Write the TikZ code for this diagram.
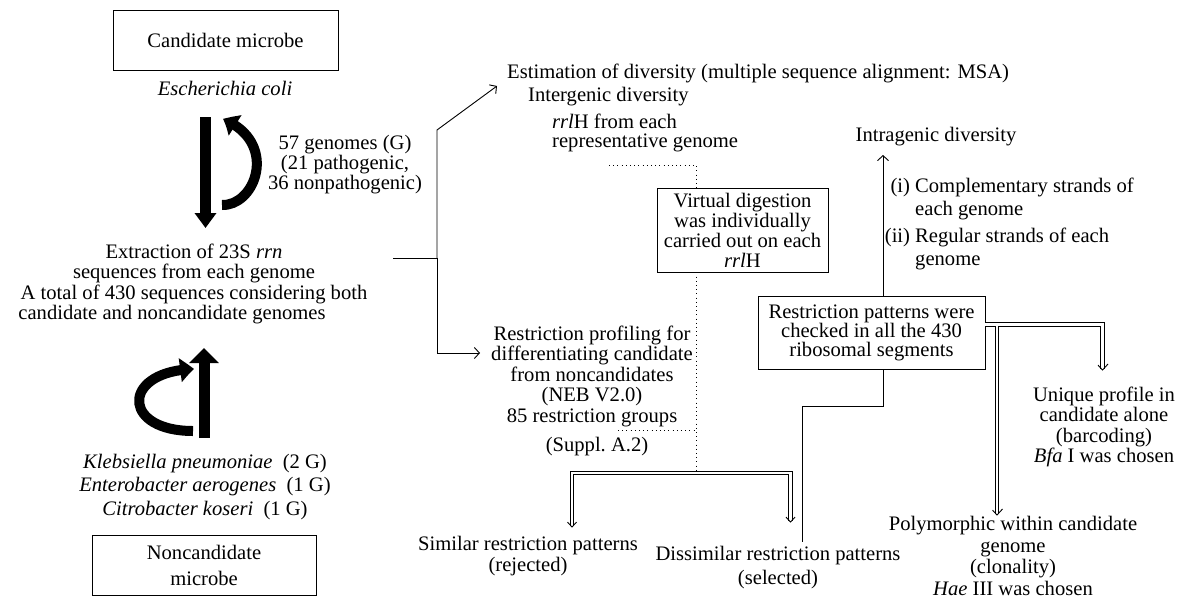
\documentclass[tikz,border=0pt]{standalone}
\usepackage{fontspec}
\setmainfont{Liberation Serif}
\usetikzlibrary{arrows.meta,bending,decorations.markings,calc}
\newcommand\fz[1]{\fontsize{20.6}{#1}\selectfont}
\tikzset{
  txt/.style={inner sep=0pt, align=center, font=\fz{20}},
  box/.style={draw, line width=0.9pt, inner sep=0pt, align=center, font=\fz{20}},
  ln/.style={line width=0.9pt},
  arr/.style={ln, -{Straight Barb[length=5pt,width=11pt]}},
  dots/.style={line width=1pt, dash pattern=on 1pt off 3.2pt},
  dbl/.style={line width=0.8pt, double distance=2.6pt},
  tipE/.style={shorten >=1.5pt, postaction={decorate,decoration={markings,mark=at position 1 with {\draw[line width=0.9pt] (-6pt,5.5pt) -- (0pt,0pt) -- (-6pt,-5.5pt);}}}},
  tipS/.style={shorten <=1.5pt, postaction={decorate,decoration={markings,mark=at position 0 with {\draw[line width=0.9pt] (6pt,5.5pt) -- (0pt,0pt) -- (6pt,-5.5pt);}}}},
}
\begin{document}
\begin{tikzpicture}[x=1pt,y=-1pt]
\useasboundingbox (0,0) rectangle (1182,605);

% ---- left column
\node[box, minimum width=225pt, minimum height=60pt] (cand) at (225.5,40) {Candidate microbe};
\node[txt] (ecoli) at (225,88) {\textit{Escherichia coli}};
\node[txt] (gen) at (345,165) {57 genomes (G)\\(21 pathogenic,\\36 nonpathogenic)};
\node[txt, font=\fz{20.5}] (ext) at (194,284) {Extraction of 23S \textit{rrn}\\sequences from each genome\\A total of 430 sequences considering both\\candidate and noncandidate genomes\hspace*{44pt}};
\node[txt, font=\fz{23.5}] (sp) at (205,487) {\textit{Klebsiella pneumoniae}\enspace(2 G)\\\textit{Enterobacter aerogenes}\enspace(1 G)\\\textit{Citrobacter koseri}\enspace(1 G)};
\node[box, minimum width=224pt, minimum height=60pt, font=\fz{26}] (nonc) at (204,565) {Noncandidate\\microbe};

% big black arrows
\coordinate (bd0) at (205.5,117); \coordinate (bd1) at (205.5,228);
\draw[line width=10.5pt, -{Triangle[length=15pt,width=21pt]}] (bd0) -- (bd1);
\coordinate (c1a) at (222,205); \coordinate (c1b) at (223,119);
\draw[line width=10pt, -{Triangle[length=14pt,width=23pt,bend]}] (c1a) .. controls (256,206) and (279,142) .. (c1b);
\coordinate (bu0) at (204,438); \coordinate (bu1) at (204,348);
\draw[line width=11pt, -{Triangle[length=15pt,width=29pt]}] (bu0) -- (bu1);
\coordinate (c2a) at (193,431); \coordinate (c2b) at (194,369);
\draw[line width=10pt, -{Triangle[length=14pt,width=23pt,bend]}] (c2a) .. controls (121,431) and (121,371) .. (c2b);

% ---- middle
\node[txt, anchor=west] (est) at (507,73) {Estimation of diversity (multiple sequence alignment: MSA)};
\node[txt, anchor=west] (inter) at (528,97) {Intergenic diversity};
\node[txt, anchor=west, align=left, font=\fz{19}] (rrl) at (552,133) {\textit{rrl}H from each\\representative genome};
\node[box, minimum width=171pt, minimum height=84pt] (vd) at (742.5,230) {Virtual digestion\\was individually\\carried out on each\\\textit{rrl}H};
\node[txt, font=\fz{20.5}] (rp) at (592,376) {Restriction profiling for\\differentiating candidate\\from noncandidates\\(NEB V2.0)\\85 restriction groups};
\node[txt] (sup) at (597,447) {(Suppl.\ A.2)};
\node[txt, font=\fz{21}] (sim) at (528,556) {Similar restriction patterns\\(rejected)};
\node[txt, font=\fz{24}] (dis) at (778,568) {Dissimilar restriction patterns\\(selected)};

% ---- right
\node[txt] (intra) at (936,137) {Intragenic diversity};
\node[txt, anchor=north west, align=left, font=\fz{23}] (str) at (915,178) {\llap{(i)\ }Complementary strands of\\each genome\\[4pt]\llap{(ii)\ }Regular strands of each\\genome};
\node[box, minimum width=227pt, minimum height=73pt, font=\fz{18.5}] (rb) at (871.5,332.5) {Restriction patterns were\\checked in all the 430\\ribosomal segments};
\node[txt, font=\fz{20.5}] (uni) at (1104,427) {Unique profile in\\candidate alone\\(barcoding)\\\textit{Bfa} I was chosen};
\node[txt, font=\fz{21.5}] (poly) at (1013,556) {Polymorphic within candidate\\genome\\(clonality)\\\textit{Hae} III was chosen};

% ---- connectors
\coordinate (e0) at (393,258); \coordinate (e1) at (437,258);
\coordinate (estin) at (497,86); \coordinate (rpin) at (480,353);
\draw[ln] (e0) -- (e1);
\draw[arr] (e1) -- (437,130) -- (estin);
\draw[arr] (e1) |- (rpin);

\coordinate (d0) at (609,165); \coordinate (dx) at (696,165);
\coordinate (J) at (696,473); \coordinate (d1) at (618,430);
\draw[dots] (d0) -- (dx) -- (dx |- vd.north);
\draw[dots] (vd.south -| J) -- (J);
\draw[dots] (d1) -- (d1 -| J);

\coordinate (simtip) at (572,527); \coordinate (distip) at (790.5,522);
\draw[dbl, tipS, tipE] (simtip) |- (J) -| (distip);

\coordinate (rbx) at (883,406); \coordinate (dtop) at (802,542);
\draw[ln] (rb.south -| rbx) -- (rbx) -| (dtop);

\coordinate (itip) at (883,155);
\draw[arr] (rb.north -| itip) -- (itip);

\coordinate (hy) at (0,324.5); \coordinate (utip) at (1102.5,370);
\coordinate (pj) at (997,325.8); \coordinate (ptip) at (997,515);
\draw[dbl, tipE] (rb.east |- hy) -| (utip);
\draw[dbl, tipE] (pj) -- (ptip);
\end{tikzpicture}
\end{document}
